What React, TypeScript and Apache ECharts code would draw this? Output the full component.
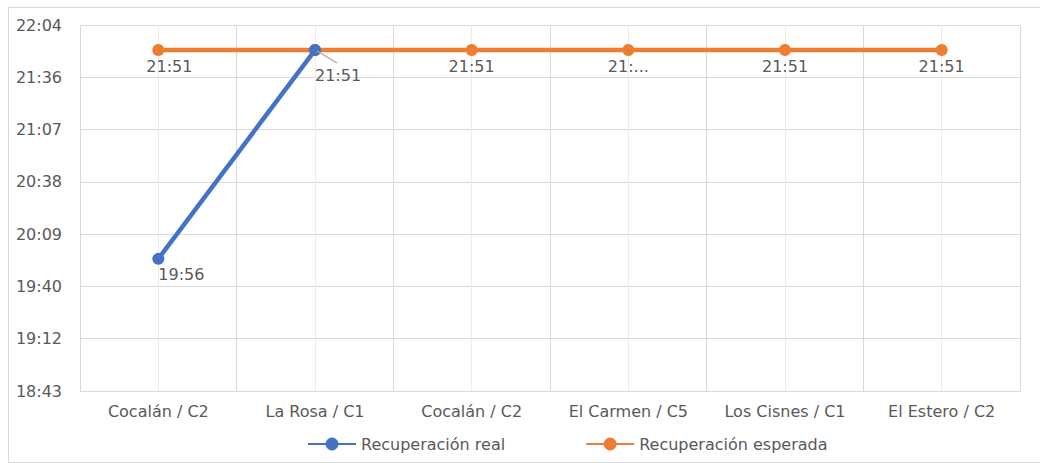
import React, { useEffect, useRef } from "react";
import * as echarts from "echarts";

const categories = ["Cocalán / C2", "La Rosa / C1", "Cocalán / C2", "El Carmen / C5", "Los Cisnes / C1", "El Estero / C2"];
// minutes since midnight
const realMinutes: (number | null)[] = [1196, 1311, null, null, null, null]; // 19:56, 21:51
const expectedMinutes: number[] = [1311, 1311, 1311, 1311, 1311, 1311]; // 21:51
const seriesNames = ["Recuperación real", "Recuperación esperada"];
const yMin = 1123.2; // 18:43
const yMax = 1324.8; // 22:04
const yStep = 28.8;

const FONT = "DejaVu Sans";
const GREY = "#595959";

function fmt(v: number): string {
  const m = Math.floor(Math.round(v * 10) / 10 + 1e-6);
  const h = Math.floor(m / 60);
  const mm = m % 60;
  return `${h}:${mm < 10 ? "0" + mm : mm}`;
}

export default function App() {
  const ref = useRef<HTMLDivElement>(null);
  useEffect(() => {
    if (!ref.current) return;
    const chart = echarts.init(ref.current, undefined, { renderer: "svg" });
    const expData = expectedMinutes.map((v, i) => {
      if (i === 3) return { value: v, label: { width: 46, overflow: "truncate", ellipsis: "..." } };
      if (i === 1) return { value: v, label: { show: false } };
      return v;
    });
    chart.setOption({
      animation: false,
      textStyle: { fontFamily: FONT },
      grid: { left: 71, top: 17, right: 27, bottom: 71 },
      legend: {
        left: 293,
        top: 423,
        itemWidth: 48,
        itemHeight: 16,
        itemGap: 80,
        textStyle: { color: GREY, fontSize: 16, fontFamily: FONT },
        data: seriesNames,
      },
      xAxis: [
        {
          type: "category",
          data: categories,
          boundaryGap: true,
          axisLine: { lineStyle: { color: "#d9d9d9", width: 1 } },
          axisTick: { show: false },
          splitLine: { show: false },
          axisLabel: { color: GREY, fontSize: 16, margin: 12, fontFamily: FONT, interval: 0 },
        },
        {
          type: "value",
          min: 0,
          max: 6,
          interval: 1,
          position: "bottom",
          axisLine: { show: false },
          axisTick: { show: false },
          axisLabel: { show: false },
          splitLine: { show: true, lineStyle: { color: "#d9d9d9", width: 1 } },
          minorTick: { show: false, splitNumber: 2 },
          minorSplitLine: { show: true, lineStyle: { color: "#ececec", width: 1 } },
        },
      ],
      yAxis: {
        type: "value",
        min: yMin,
        max: yMax,
        interval: yStep,
        axisLine: { show: false },
        axisTick: { show: false },
        splitLine: { lineStyle: { color: "#d9d9d9", width: 1 } },
        axisLabel: { color: GREY, fontSize: 16, margin: 18, fontFamily: FONT, formatter: (v: number) => fmt(v) },
      },
      series: [
        {
          name: seriesNames[0],
          type: "line",
          xAxisIndex: 0,
          data: realMinutes,
          symbol: "circle",
          symbolSize: 12,
          lineStyle: { color: "#4472C4", width: 4.5 },
          itemStyle: { color: "#4472C4" },
          z: 3,
          label: {
            show: true,
            position: "bottom",
            distance: 2,
            color: GREY,
            fontSize: 16,
            fontFamily: FONT,
            formatter: (p: any) => fmt(p.value),
          },
          labelLayout: (p: any) => {
            if (p.dataIndex === 0) return { dx: 23, dy: 0 };
            if (p.dataIndex === 1) return { dx: 23, dy: 9 };
            return {};
          },
        },
        {
          name: seriesNames[1],
          type: "line",
          xAxisIndex: 0,
          data: expData,
          symbol: "circle",
          symbolSize: 12,
          lineStyle: { color: "#ED7D31", width: 4.5 },
          itemStyle: { color: "#ED7D31" },
          z: 2,
          label: {
            show: true,
            position: "bottom",
            distance: 2,
            color: GREY,
            fontSize: 16,
            fontFamily: FONT,
            formatter: (p: any) => fmt(p.value),
          },
          labelLayout: (p: any) => {
            if (p.dataIndex === 0) return { dx: 11 };
            return {};
          },
        },
      ],
    });
    // leader line for the displaced La Rosa label, placed through the chart's own scales
    const pt = chart.convertToPixel({ xAxisIndex: 0, yAxisIndex: 0 }, [categories[1] as any, realMinutes[1] as number]) as number[];
    if (pt && isFinite(pt[0]) && isFinite(pt[1])) {
      chart.setOption({
        graphic: [
          {
            type: "line",
            z: 100,
            shape: { x1: pt[0] + 2, y1: pt[1] + 1, x2: pt[0] + 22, y2: pt[1] + 13 },
            style: { stroke: "#a6a6a6", lineWidth: 1.3 },
          },
        ],
      });
    }
    return () => chart.dispose();
  }, []);
  return (
    <div
      ref={ref}
      style={{
        position: "absolute",
        left: 8,
        top: 7,
        width: 1040,
        height: 456,
        border: "1px solid #d9d9d9",
        boxSizing: "border-box",
      }}
    />
  );
}
